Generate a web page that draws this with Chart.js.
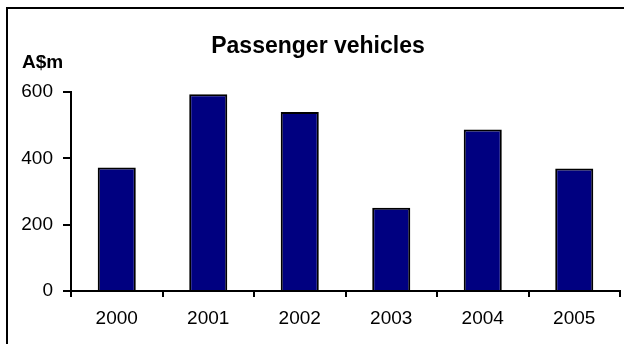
<!DOCTYPE html>
<html>
<head>
<meta charset="utf-8">
<script src="https://cdn.jsdelivr.net/npm/chart.js@4"></script>
<style>
  html, body { margin: 0; padding: 0; background: #fff; }
  #wrap { position: relative; width: 624px; height: 344px; }
</style>
</head>
<body>
<div id="wrap"><canvas id="chart-vehicles" width="624" height="344"></canvas></div>
<script>
// passenger vehicle values, A$m
var years = ["2000", "2001", "2002", "2003", "2004", "2005"];
var values = [372, 593, 540, 251, 487, 369];
var yTicks = [0, 200, 400, 600];

var chartTitle = "Passenger vehicles";
var unitLabel = "A$m";
var fontFamily = "'Liberation Sans', Arial, sans-serif";

// frame lines and the free-standing texts
var decorations = {
  id: "decorations",
  beforeDraw: function (chart) {
    var ctx = chart.ctx;
    ctx.save();
    ctx.fillStyle = "#fff";
    ctx.fillRect(0, 0, chart.width, chart.height);
    ctx.fillStyle = "#000";
    ctx.fillRect(6, 7, 2, chart.height - 7);
    ctx.fillRect(6, 7, chart.width - 6, 2);
    ctx.restore();
  },
  afterDraw: function (chart) {
    var ctx = chart.ctx;
    ctx.save();
    ctx.fillStyle = "#000";
    ctx.textBaseline = "alphabetic";
    ctx.textAlign = "center";
    ctx.font = "bold 23px " + fontFamily;
    ctx.fillText(chartTitle, 318, 53);
    ctx.textAlign = "left";
    ctx.font = "bold 19px " + fontFamily;
    ctx.fillText(unitLabel, 22, 68);
    ctx.restore();
  }
};

var ctx = document.getElementById("chart-vehicles").getContext("2d");

new Chart(ctx, {
  type: "bar",
  data: {
    labels: years,
    datasets: [{
      label: chartTitle,
      data: values,
      backgroundColor: "#000080",
      borderColor: "#000",
      borderWidth: 2,
      categoryPercentage: 1,
      barPercentage: 0.416
    }]
  },
  options: {
    responsive: false,
    animation: false,
    devicePixelRatio: 1,
    layout: {
      padding: { left: 0, right: 4, top: 92, bottom: 0 }
    },
    plugins: {
      legend: { display: false },
      tooltip: { enabled: false }
    },
    scales: {
      y: {
        min: 0,
        max: 600,
        afterFit: function (scale) { scale.width = 71; },
        afterBuildTicks: function (scale) {
          scale.ticks = yTicks.map(function (v) { return { value: v }; });
        },
        grid: {
          drawOnChartArea: false,
          drawTicks: true,
          tickLength: 8,
          color: "#000",
          lineWidth: 2
        },
        border: { display: true, color: "#000", width: 2 },
        ticks: {
          padding: 10,
          color: "#000",
          font: { size: 19, family: fontFamily }
        }
      },
      x: {
        afterFit: function (scale) { scale.height = 53; },
        grid: {
          offset: true,
          drawOnChartArea: false,
          drawTicks: true,
          tickLength: 6,
          color: "#000",
          lineWidth: 2
        },
        border: { display: true, color: "#000", width: 2 },
        ticks: {
          padding: 10,
          color: "#000",
          maxRotation: 0,
          font: { size: 19, family: fontFamily }
        }
      }
    }
  },
  plugins: [decorations]
});
</script>
</body>
</html>
